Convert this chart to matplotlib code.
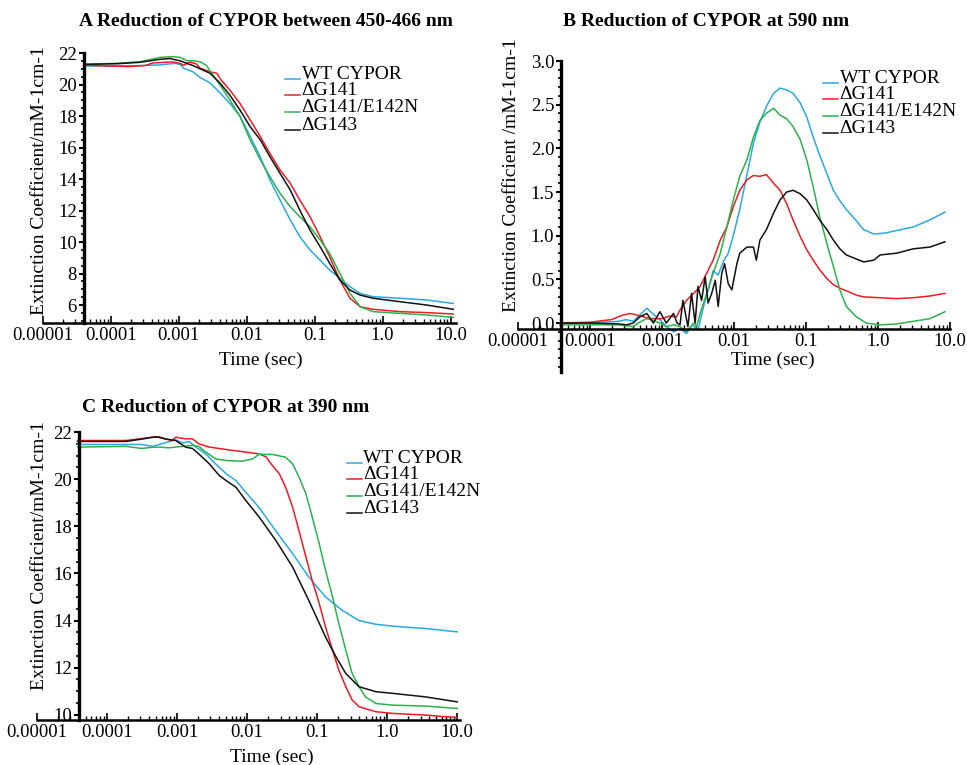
import matplotlib
matplotlib.use("Agg")
import matplotlib.pyplot as plt
import numpy as np
from matplotlib.ticker import FixedLocator, NullFormatter, MultipleLocator
from matplotlib.lines import Line2D

plt.rcParams['font.family'] = ['Liberation Serif', 'DejaVu Serif']

# ---------------- data (log10 of time in s, extinction coefficient) ----------------
series_labels = ['WT CYPOR', '\u0394G141', '\u0394G141/E142N', '\u0394G143']
series_colors = ['#29a9e1', '#ec1c24', '#2bb24c', '#111111']
xtick_labels = ['0.00001', '0.0001', '0.001', '0.01', '0.1', '1.0', '10.0']
xtick_exps = [-5, -4, -3, -2, -1, 0, 1]
A_yticks = [6, 8, 10, 12, 14, 16, 18, 20, 22]
B_yticks = [0.0, 0.5, 1.0, 1.5, 2.0, 2.5, 3.0]
C_yticks = [10, 12, 14, 16, 18, 20, 22]

# Panel A: 450-466 nm
A_wt_logt = [-4.40, -4.0, -3.6, -3.3, -3.15, -3.05, -2.97, -2.93, -2.85, -2.79, -2.69, -2.54, -2.39, -2.25, -2.10,
             -1.95, -1.80, -1.66, -1.51, -1.36, -1.22, -1.07, -0.92, -0.78, -0.63, -0.48, -0.33, -0.14, 0.26, 0.65, 1.04]
A_wt_val = [21.17, 21.18, 21.2, 21.24, 21.3, 21.34, 21.25, 21.03, 20.9, 20.8, 20.45, 20.1, 19.45, 18.8, 18.0,
            16.7, 15.4, 13.95, 12.67, 11.4, 10.35, 9.5, 8.85, 8.22, 7.7, 7.16, 6.74, 6.53, 6.43, 6.32, 6.1]
A_g141_logt = [-4.40, -4.06, -3.72, -3.5, -3.38, -3.09, -2.98, -2.93, -2.84, -2.74, -2.69, -2.54, -2.44, -2.39, -2.25,
               -2.10, -1.95, -1.80, -1.66, -1.51, -1.36, -1.22, -1.07, -0.92, -0.78, -0.63, -0.48, -0.33, -0.14, 0.26,
               0.65, 1.04]
A_g141_val = [21.24, 21.17, 21.14, 21.2, 21.37, 21.43, 21.34, 21.22, 21.43, 21.3, 21.05, 20.81, 20.71, 20.35, 19.65,
              18.8, 17.75, 16.69, 15.63, 14.57, 13.73, 12.67, 11.61, 10.34, 9.07, 7.59, 6.43, 5.89, 5.73, 5.58,
              5.52, 5.43]
A_e142n_logt = [-4.40, -3.9, -3.57, -3.28, -3.08, -2.98, -2.88, -2.80, -2.69, -2.59, -2.54, -2.39, -2.25, -2.10, -1.95,
                -1.80, -1.66, -1.51, -1.36, -1.22, -1.07, -0.92, -0.78, -0.63, -0.48, -0.33, -0.14, 0.26, 0.65, 1.04]
A_e142n_val = [21.28, 21.35, 21.45, 21.72, 21.77, 21.72, 21.51, 21.51, 21.45, 21.2, 20.85, 19.95, 19.02, 17.96, 16.48,
               15.21, 14.15, 13.09, 12.24, 11.61, 10.97, 10.13, 9.28, 8.01, 6.74, 5.89, 5.58, 5.47, 5.37, 5.22]
A_g143_logt = [-4.40, -3.9, -3.57, -3.28, -3.13, -2.98, -2.88, -2.79, -2.69, -2.54, -2.39, -2.25, -2.10, -1.95, -1.80,
               -1.66, -1.51, -1.36, -1.22, -1.07, -0.92, -0.78, -0.63, -0.48, -0.33, -0.14, 0.26, 0.65, 1.04]
A_g143_val = [21.28, 21.32, 21.41, 21.6, 21.65, 21.5, 21.34, 21.2, 21.0, 20.71, 20.07, 19.33, 18.38, 17.32, 16.48,
              15.42, 14.36, 13.3, 12.03, 10.76, 9.7, 8.65, 7.59, 6.95, 6.63, 6.43, 6.21, 6.0, 5.73]

# Panel B: 590 nm
B_wt_logt = [-4.42, -4.0, -3.6, -3.5, -3.4, -3.3, -3.21, -3.12, -3.03, -2.94, -2.84, -2.75, -2.66, -2.58, -2.50,
             -2.42, -2.35, -2.29, -2.22, -2.15, -2.08, -2.01, -1.92, -1.82, -1.73, -1.64, -1.55, -1.45, -1.36, -1.27,
             -1.18, -1.08, -0.99, -0.90, -0.81, -0.71, -0.62, -0.53, -0.44, -0.30, -0.20, -0.06, 0.10, 0.26, 0.49,
             0.72, 0.93]
B_wt_val = [0.0, 0.0, 0.02, 0.04, 0.02, 0.1, 0.17, 0.1, 0.04, -0.04, -0.1, -0.06, -0.12, -0.02, -0.08,
            0.2, 0.4, 0.6, 0.55, 0.7, 0.8, 1.0, 1.3, 1.7, 2.06, 2.3, 2.48, 2.63, 2.69, 2.67,
            2.63, 2.52, 2.36, 2.13, 1.92, 1.71, 1.52, 1.40, 1.30, 1.17, 1.07, 1.02, 1.03, 1.06, 1.10,
            1.18, 1.27]
B_g141_logt = [-4.42, -4.0, -3.7, -3.55, -3.44, -3.3, -3.15, -3.0, -2.9, -2.8, -2.75, -2.66, -2.56, -2.47, -2.38,
               -2.29, -2.19, -2.10, -2.01, -1.92, -1.82, -1.73, -1.64, -1.55, -1.45, -1.36, -1.27, -1.18, -1.08, -0.99,
               -0.90, -0.81, -0.71, -0.62, -0.53, -0.44, -0.30, -0.20, 0.03, 0.26, 0.49, 0.72, 0.93]
B_g141_val = [0.0, 0.01, 0.04, 0.09, 0.11, 0.08, 0.05, 0.05, 0.08, 0.07, 0.15, 0.26, 0.34, 0.42, 0.57,
              0.72, 0.95, 1.1, 1.33, 1.52, 1.64, 1.69, 1.68, 1.7, 1.6, 1.52, 1.37, 1.18, 0.99, 0.84,
              0.72, 0.61, 0.51, 0.44, 0.40, 0.37, 0.32, 0.30, 0.29, 0.28, 0.29, 0.31, 0.34]
B_e142n_logt = [-4.42, -4.0, -3.6, -3.4, -3.31, -3.21, -3.12, -3.03, -2.94, -2.84, -2.75, -2.66, -2.56, -2.52, -2.47,
                -2.38, -2.29, -2.19, -2.10, -2.01, -1.92, -1.82, -1.73, -1.64, -1.55, -1.45, -1.36, -1.27, -1.18, -1.08,
                -0.99, -0.90, -0.81, -0.71, -0.62, -0.53, -0.44, -0.30, -0.16, 0.03, 0.26, 0.49, 0.72, 0.93]
B_e142n_val = [-0.02, -0.02, -0.02, -0.04, 0.01, 0.05, 0.03, 0.0, -0.04, -0.02, -0.04, -0.1, 0.0, -0.04, 0.11,
               0.34, 0.57, 0.8, 1.1, 1.41, 1.68, 1.87, 2.13, 2.32, 2.4, 2.46, 2.38, 2.34, 2.25, 2.1,
               1.87, 1.56, 1.22, 0.91, 0.65, 0.38, 0.19, 0.07, 0.0, -0.02, -0.01, 0.02, 0.05, 0.13]
B_g143_logt = [-4.42, -4.0, -3.6, -3.49, -3.40, -3.31, -3.21, -3.12, -3.03, -2.94, -2.84, -2.79, -2.75, -2.71, -2.64,
               -2.59, -2.54, -2.50, -2.45, -2.40, -2.36, -2.31, -2.26, -2.22, -2.17, -2.13, -2.08, -2.03, -1.96, -1.92,
               -1.82, -1.73, -1.69, -1.64, -1.55, -1.45, -1.36, -1.27, -1.18, -1.08, -0.99, -0.90, -0.81, -0.71, -0.62,
               -0.53, -0.44, -0.20, -0.06, 0.03, 0.26, 0.49, 0.72, 0.93]
B_g143_val = [0.0, 0.0, -0.01, -0.02, 0.0, 0.07, 0.11, 0.0, 0.13, 0.0, 0.11, 0.0, -0.02, 0.26, -0.04,
              0.34, 0.0, 0.42, 0.26, 0.53, 0.23, 0.34, 0.49, 0.19, 0.57, 0.68, 0.45, 0.38, 0.68, 0.8,
              0.87, 0.87, 0.72, 0.95, 1.07, 1.26, 1.41, 1.5, 1.52, 1.48, 1.41, 1.3, 1.18, 1.07, 0.95,
              0.85, 0.78, 0.70, 0.72, 0.78, 0.80, 0.85, 0.87, 0.93]

# Panel C: 390 nm
C_wt_logt = [-4.42, -4.0, -3.5, -3.35, -3.16, -3.02, -2.92, -2.83, -2.73, -2.59, -2.45, -2.30, -2.16, -2.02, -1.83,
             -1.59, -1.35, -1.12, -0.88, -0.64, -0.40, -0.16, 0.08, 0.55, 1.0]
C_wt_val = [21.47, 21.47, 21.47, 21.39, 21.55, 21.67, 21.53, 21.6, 21.36, 21.07, 20.65, 20.23, 19.94, 19.45, 18.8,
            17.8, 16.84, 15.85, 15.0, 14.43, 14.0, 13.84, 13.76, 13.66, 13.52]
C_g141_logt = [-4.42, -3.73, -3.35, -3.26, -3.16, -3.07, -3.02, -2.88, -2.78, -2.69, -2.54, -2.40, -2.21, -2.02, -1.83,
               -1.73, -1.64, -1.54, -1.45, -1.35, -1.26, -1.16, -1.07, -0.97, -0.88, -0.78, -0.69, -0.59, -0.50, -0.40,
               -0.16, 0.08, 0.55, 1.0]
C_g141_val = [21.64, 21.64, 21.78, 21.8, 21.7, 21.64, 21.78, 21.71, 21.71, 21.5, 21.36, 21.3, 21.22, 21.15, 21.07,
              20.95, 20.58, 20.23, 19.66, 18.81, 17.82, 16.7, 15.7, 14.72, 13.73, 12.74, 11.9, 11.19, 10.63, 10.34,
              10.13, 10.06, 9.99, 9.88]
C_e142n_logt = [-4.42, -3.73, -3.5, -3.4, -3.26, -3.12, -2.92, -2.78, -2.69, -2.59, -2.45, -2.30, -2.07, -1.92, -1.83,
                -1.64, -1.45, -1.35, -1.26, -1.16, -1.07, -0.97, -0.88, -0.78, -0.69, -0.59, -0.50, -0.40, -0.31, -0.16,
                0.08, 0.55, 1.0]
C_e142n_val = [21.36, 21.39, 21.3, 21.34, 21.36, 21.33, 21.39, 21.43, 21.39, 21.15, 20.86, 20.79, 20.76, 20.86, 21.05,
               21.05, 20.93, 20.65, 20.09, 19.38, 18.4, 17.26, 16.13, 15.0, 13.87, 12.74, 11.75, 11.19, 10.76, 10.48,
               10.41, 10.37, 10.27]
C_g143_logt = [-4.42, -3.73, -3.5, -3.30, -3.16, -3.02, -2.88, -2.78, -2.69, -2.54, -2.40, -2.30, -2.16, -2.02, -1.83,
               -1.59, -1.35, -1.12, -0.88, -0.73, -0.59, -0.40, -0.16, 0.08, 0.55, 1.0]
C_g143_val = [21.6, 21.6, 21.7, 21.8, 21.7, 21.64, 21.36, 21.3, 21.07, 20.65, 20.16, 19.94, 19.66, 19.1, 18.4,
              17.4, 16.27, 14.86, 13.3, 12.46, 11.75, 11.19, 10.98, 10.91, 10.76, 10.55]

# ---------------- figure ----------------
W, H = 967, 765
fig = plt.figure(figsize=(W / 100, H / 100), dpi=100)


def px_axes(l, t, r, b):
    return fig.add_axes([l / W, 1 - b / H, (r - l) / W, (b - t) / H])


def fx(x):
    return x / W


def fy(y):
    return 1 - y / H


def style_axes(ax, xmax_exp, ylim, yticks, yminor, yfmt, xspine_y=None):
    ax.set_xscale('log')
    ax.set_xlim(1e-5, 10 ** xmax_exp)
    ax.set_ylim(*ylim)
    for s in ('top', 'right'):
        ax.spines[s].set_visible(False)
    ax.spines['left'].set_position(('data', 10 ** -4.4))
    ax.spines['left'].set_linewidth(2.4)
    ax.spines['bottom'].set_linewidth(1.8)
    if xspine_y is not None:
        ax.spines['bottom'].set_position(('data', xspine_y))
    ax.xaxis.set_major_locator(FixedLocator([10.0 ** e for e in xtick_exps]))
    ax.set_xticklabels(xtick_labels)
    minors = [m * 10.0 ** e for e in xtick_exps[:-1] for m in range(2, 10)]
    ax.xaxis.set_minor_locator(FixedLocator(minors))
    ax.xaxis.set_minor_formatter(NullFormatter())
    ax.yaxis.set_major_locator(FixedLocator(yticks))
    ax.yaxis.set_minor_locator(MultipleLocator(yminor))
    ax.yaxis.set_major_formatter(plt.FormatStrFormatter(yfmt))
    ax.tick_params(axis='x', which='major', direction='in', length=5, width=1.2, labelsize=13.5, pad=3)
    ax.tick_params(axis='x', which='minor', direction='in', length=3, width=1.0)
    ax.tick_params(axis='y', which='major', direction='out', length=3.5, width=1.5, labelsize=13.5, pad=1.5)
    ax.tick_params(axis='y', which='minor', direction='out', length=2, width=1.2)


def plot_panel(ax, logts, vals):
    for lt, v, c in zip(logts, vals, series_colors):
        ax.plot(10.0 ** np.array(lt), v, color=c, lw=1.1, solid_joinstyle='round')


def legend(xh0, xh1, xt, baselines):
    for lab, c, yb in zip(series_labels, series_colors, baselines):
        fig.add_artist(Line2D([fx(xh0), fx(xh1)], [fy(yb), fy(yb)], color=c, lw=1.1,
                              transform=fig.transFigure))
        fig.text(fx(xt), fy(yb), lab, ha='left', va='baseline', fontsize=14)


# Panel A
axA = px_axes(43, 53, 456, 323)
style_axes(axA, 1.08, (4.86, 22), A_yticks, 0.5, '%d')
plot_panel(axA, [A_wt_logt, A_g141_logt, A_e142n_logt, A_g143_logt],
           [A_wt_val, A_g141_val, A_e142n_val, A_g143_val])
fig.text(fx(266), fy(22), 'A Reduction of CYPOR between 450-466 nm', ha='center', va='center',
         fontsize=14, fontweight='bold')
fig.text(fx(261), fy(360), 'Time (sec)', ha='center', va='center', fontsize=14)
fig.text(fx(40), fy(181), 'Extinction Coefficient/mM-1cm-1', ha='center', va='center', rotation=90, fontsize=14)
legend(285, 300, 301.5, [79, 95, 112, 130])

# Panel B
axB = px_axes(518, 61, 950, 372)
style_axes(axB, 1.0, (-0.56, 3.0), B_yticks, 0.1, '%.1f', xspine_y=-0.07)
plot_panel(axB, [B_wt_logt, B_g141_logt, B_e142n_logt, B_g143_logt],
           [B_wt_val, B_g141_val, B_e142n_val, B_g143_val])
fig.text(fx(706), fy(22), 'B Reduction of CYPOR at 590 nm', ha='center', va='center',
         fontsize=14, fontweight='bold')
fig.text(fx(773), fy(360), 'Time (sec)', ha='center', va='center', fontsize=14)
fig.text(fx(512), fy(175), 'Extinction Coefficient /mM-1cm-1', ha='center', va='center', rotation=90, fontsize=14)
legend(823, 838, 839.5, [83, 99, 116, 133])

# Panel C
axC = px_axes(37, 432, 460, 720)
style_axes(axC, 1.04, (9.78, 22), C_yticks, 0.5, '%d')
plot_panel(axC, [C_wt_logt, C_g141_logt, C_e142n_logt, C_g143_logt],
           [C_wt_val, C_g141_val, C_e142n_val, C_g143_val])
fig.text(fx(226), fy(408), 'C Reduction of CYPOR at 390 nm', ha='center', va='center',
         fontsize=14, fontweight='bold')
fig.text(fx(272), fy(757), 'Time (sec)', ha='center', va='center', fontsize=14)
fig.text(fx(40), fy(556), 'Extinction Coefficient/mM-1cm-1', ha='center', va='center', rotation=90, fontsize=14)
legend(347, 362, 363, [463, 479, 496, 513])

fig.savefig('out.png', dpi=100)
